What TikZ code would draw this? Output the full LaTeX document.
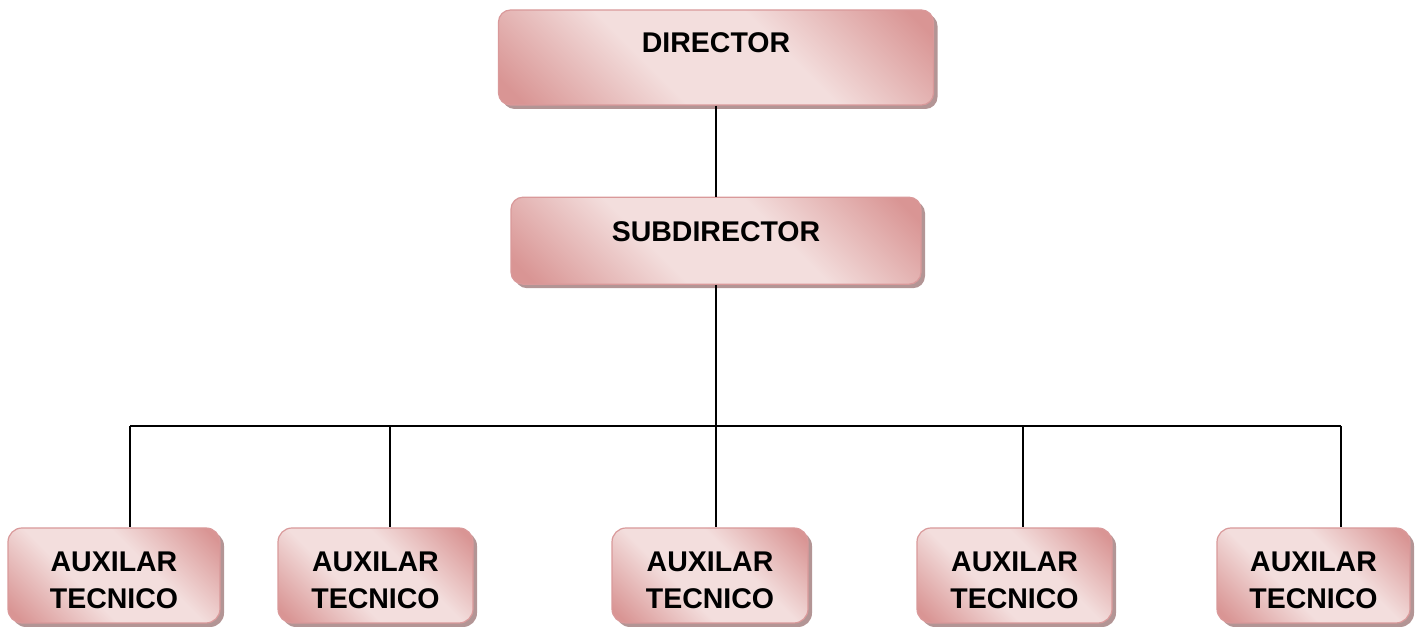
\documentclass[tikz,border=0pt]{standalone}
\usepackage{fontspec}
\setmainfont{Liberation Sans}
\usetikzlibrary{positioning,shadows}
\definecolor{rosaclaro}{HTML}{F3DEDD}
\definecolor{rosaoscuro}{HTML}{D99594}
\definecolor{rosaborde}{HTML}{D9999A}
\definecolor{sombra}{HTML}{B39595}
\pgfdeclarehorizontalshading{rosado}{100bp}{color(0bp)=(rosaoscuro); color(18bp)=(rosaoscuro);
  color(40bp)=(rosaclaro); color(60bp)=(rosaclaro); color(82bp)=(rosaoscuro); color(100bp)=(rosaoscuro)}
\tikzset{
  cargo/.style={draw=rosaborde, line width=1.2pt, rounded corners=12pt,
    shading=rosado, shading angle=45,
    drop shadow={shadow xshift=4pt, shadow yshift=-4pt, fill=sombra, opacity=1},
    font=\bfseries\fontsize{28.5}{37}\selectfont, align=center, inner sep=0pt},
  auxiliar/.style={cargo, rounded corners=14pt, minimum width=195pt, minimum height=95pt,
    text height=66.4pt, text depth=0pt},
  enlace/.style={line width=2pt, black}
}
\begin{document}
\begin{tikzpicture}[x=1pt,y=1pt]
\useasboundingbox (0,0) rectangle (1419,628);
% jefatura
\node[cargo, minimum width=435pt, minimum height=95pt, text height=21pt, text depth=30pt]
  (director) at (716,570.5) {DIRECTOR};
\node[cargo, minimum width=410pt, minimum height=87pt, text height=21pt, text depth=20pt,
  below=91pt of director] (subdirector) {SUBDIRECTOR};

% auxiliares
\node[auxiliar, minimum width=212pt] (aux1) at (114,52.5) {AUXILAR\\TECNICO};
\node[auxiliar] (aux2) at (375.5,52.5) {AUXILAR\\TECNICO};
\node[auxiliar, minimum width=196pt] (aux3) at (710,52.5) {AUXILAR\\TECNICO};
\node[auxiliar] (aux4) at (1014.5,52.5) {AUXILAR\\TECNICO};
\node[auxiliar, minimum width=193pt] (aux5) at (1313.5,52.5) {AUXILAR\\TECNICO};

\coordinate (b1) at (130,202);
\coordinate (b2) at (390,202);
\coordinate (b3) at (subdirector.south |- 0,202);
\coordinate (b4) at (1023,202);
\coordinate (b5) at (1341,202);

\draw[enlace] (director) -- (subdirector);
\draw[enlace] (subdirector) -- (b3);
\draw[enlace] (b1) -- (b5);
\draw[enlace] (b1) -- (b1 |- aux1.north);
\draw[enlace] (b2) -- (b2 |- aux2.north);
\draw[enlace] (b3) -- (b3 |- aux3.north);
\draw[enlace] (b4) -- (b4 |- aux4.north);
\draw[enlace] (b5) -- (b5 |- aux5.north);
\end{tikzpicture}
\end{document}
